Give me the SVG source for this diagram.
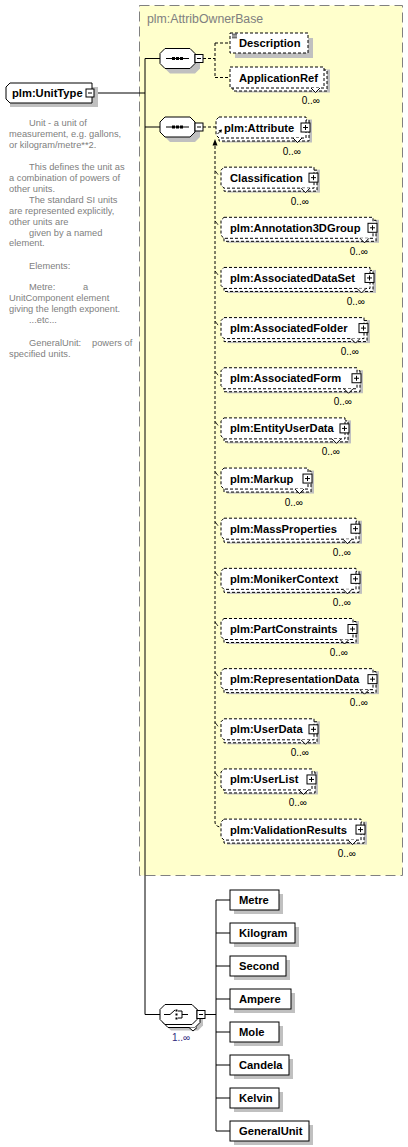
<svg xmlns="http://www.w3.org/2000/svg" width="408" height="1147" viewBox="0 0 408 1147">
<style>
.yb{fill:#ffffcc;stroke:#808080;stroke-dasharray:10,5}
.sh{fill:#c0c0c0;stroke:none}
.nb{fill:#fff;stroke:#000}
.db{fill:#fff;stroke:#000;stroke-dasharray:3,2}
.cv{fill:#fff;stroke:#000}
.ln{fill:none;stroke:#000}
.dl{fill:none;stroke:#000;stroke-dasharray:3,2}
.t{font-family:"Liberation Sans",Arial,sans-serif;font-size:11.2px;font-weight:bold;fill:#000}
.o{font-family:"Liberation Sans",Arial,sans-serif;font-size:10px;fill:#000;text-anchor:end}
.a{font-family:"Liberation Sans",Arial,sans-serif;font-size:9.3px;fill:#808080}
.g{font-family:"Liberation Sans",Arial,sans-serif;font-size:12.3px;fill:#808080}
</style>
<defs>
<g id="seqicon">
<polygon class="sh" points="10,-5 35,-5 40,0 40,10 35,15 10,15 5,10 5,0"/>
<polygon class="nb" points="5,-10 30,-10 35,-5 35,5 30,10 5,10 0,5 0,-5"/>
<path class="ln" d="M6,0H29"/>
<rect x="12" y="-1.5" width="3" height="3" fill="#000"/>
<rect x="16" y="-1.5" width="3" height="3" fill="#000"/>
<rect x="20" y="-1.5" width="3" height="3" fill="#000"/>
<rect class="nb" x="35" y="-4" width="8" height="8"/>
<path class="ln" d="M37,0H41"/>
</g>
</defs>

<!-- base type area -->
<g id="attribownerbase">
<rect class="yb" x="139.5" y="5.5" width="263" height="870"/>
<text class="g" x="147" y="23">plm:AttribOwnerBase</text>
</g>

<!-- connectors -->
<g id="connectors">
<path class="ln" d="M94,93H145M145,58.5V1014.5M145,58.5H160M145,127H160M145,1014.5H160"/>
<path class="dl" d="M203,58.5H215M215,43V77.5M215,43H230M215,77.5H230"/>
<path class="dl" d="M203,127H216"/>
<path class="dl" d="M215,146V822Q215,826 220,827"/>
<polygon points="215,139 212.5,145.5 217.5,145.5" fill="#000"/>
<path class="ln" stroke-width="0.8" d="M215,170.6l3,4M215,220.8l3,4M215,270.9l3,4M215,321.1l3,4M215,371.2l3,4M215,421.4l3,4M215,471.5l3,4M215,521.7l3,4M215,571.8l3,4M215,622l3,4M215,672.1l3,4M215,722.3l3,4M215,772.4l3,4"/>
<path class="ln" d="M205,1014.5H216M216,900V1131M216,900H230M216,933H230M216,966H230M216,999H230M216,1032H230M216,1065H230M216,1098H230M216,1131H230"/>
</g>

<!-- root -->
<g id="unittype">
<rect class="sh" x="10" y="87" width="88" height="20"/>
<path class="nb" d="M10,83H92V103H10L6,99V87Z"/>
<text class="t" x="12" y="97">plm:UnitType</text>
<rect class="nb" x="86" y="89" width="8" height="8"/>
<path class="ln" d="M88,93H92"/>
</g>

<g id="annotation">
<text class="a" x="29" y="126">Unit - a unit of</text>
<text class="a" x="9" y="137">measurement, e.g. gallons,</text>
<text class="a" x="9" y="148">or kilogram/metre**2.</text>
<text class="a" x="29" y="170">This defines the unit as</text>
<text class="a" x="9" y="181">a combination of powers of</text>
<text class="a" x="9" y="191.5">other units.</text>
<text class="a" x="29" y="203">The standard SI units</text>
<text class="a" x="9" y="214">are represented explicitly,</text>
<text class="a" x="9" y="224.5">other units are</text>
<text class="a" x="29" y="235.5">given by a named</text>
<text class="a" x="9" y="246">element.</text>
<text class="a" x="29" y="269">Elements:</text>
<text class="a" x="29" y="290">Metre:<tspan x="83">a</tspan></text>
<text class="a" x="9" y="301">UnitComponent element</text>
<text class="a" x="9" y="312">giving the length exponent.</text>
<text class="a" x="29" y="323">...etc...</text>
<text class="a" x="29" y="346">GeneralUnit:<tspan x="92">powers of</tspan></text>
<text class="a" x="9" y="357">specified units.</text>
</g>

<!-- sequences -->
<g id="sequence1" transform="translate(160,58.5)"><use href="#seqicon"/></g>
<g id="sequence2" transform="translate(160,127)"><use href="#seqicon"/></g>

<g id="description">
<rect class="sh" x="235" y="38" width="78" height="20"/>
<rect class="db" x="230" y="33" width="78" height="20"/>
<path class="ln" stroke-width="0.8" d="M232,34.2H237M232,36H237M232,37.8H237"/>
<text class="t" x="239" y="47">Description</text>
</g>

<g id="applicationref" transform="translate(230,77.5)">
<rect class="sh" x="6" y="-8" width="94" height="23"/>
<rect class="db" x="3" y="-7.5" width="94" height="21"/>
<rect class="db" x="0" y="-10.5" width="94" height="21"/>
<polyline class="cv" points="81,10.5 85.5,15 90,10.5"/>
<text class="t" x="9" y="4">ApplicationRef</text>
<text class="o" x="90" y="26">0..∞</text>
</g>

<g id="attribute" transform="translate(216,127.5)">
<rect class="sh" x="6" y="-8" width="90" height="23"/>
<rect class="db" x="3" y="-7.5" width="90" height="21"/>
<path class="db" d="M3,-10.5H90V10.5H3L0,7.5V-7.5Z"/>
<polyline class="cv" points="77,10.5 81.5,15 86,10.5"/>
<rect class="nb" x="85" y="-4.5" width="9" height="9"/>
<path class="ln" d="M87,0H92M89.5,-2.5V2.5"/>
<path class="ln" d="M1.5,6.5L5,3"/>
<polygon points="6,2 2.5,2.8 5.2,5.5" fill="#000"/>
<text class="t" x="8" y="4">plm:Attribute</text>
<text class="o" x="85" y="27">0..∞</text>
</g>

<g id="classification" transform="translate(221,177.65)">
<rect class="sh" x="6" y="-8" width="93" height="23"/>
<rect class="db" x="3" y="-7.5" width="93" height="21"/>
<path class="db" d="M3,-10.5H93V10.5H3L0,7.5V-7.5Z"/>
<polyline class="cv" points="80,10.5 84.5,15 89,10.5"/>
<rect class="nb" x="88" y="-4.5" width="9" height="9"/>
<path class="ln" d="M90,0H95M92.5,-2.5V2.5"/>
<text class="t" x="9" y="4">Classification</text>
<text class="o" x="88" y="27">0..∞</text>
</g>

<g id="annotation3dgroup" transform="translate(221,227.8)">
<rect class="sh" x="6" y="-8" width="152" height="23"/>
<rect class="db" x="3" y="-7.5" width="152" height="21"/>
<path class="db" d="M3,-10.5H152V10.5H3L0,7.5V-7.5Z"/>
<polyline class="cv" points="139,10.5 143.5,15 148,10.5"/>
<rect class="nb" x="147" y="-4.5" width="9" height="9"/>
<path class="ln" d="M149,0H154M151.5,-2.5V2.5"/>
<text class="t" x="9" y="4">plm:Annotation3DGroup</text>
<text class="o" x="147" y="27">0..∞</text>
</g>

<g id="associateddataset" transform="translate(221,277.95)">
<rect class="sh" x="6" y="-8" width="149" height="23"/>
<rect class="db" x="3" y="-7.5" width="149" height="21"/>
<path class="db" d="M3,-10.5H149V10.5H3L0,7.5V-7.5Z"/>
<polyline class="cv" points="136,10.5 140.5,15 145,10.5"/>
<rect class="nb" x="144" y="-4.5" width="9" height="9"/>
<path class="ln" d="M146,0H151M148.5,-2.5V2.5"/>
<text class="t" x="9" y="4">plm:AssociatedDataSet</text>
<text class="o" x="144" y="27">0..∞</text>
</g>

<g id="associatedfolder" transform="translate(221,328.1)">
<rect class="sh" x="6" y="-8" width="143" height="23"/>
<rect class="db" x="3" y="-7.5" width="143" height="21"/>
<path class="db" d="M3,-10.5H143V10.5H3L0,7.5V-7.5Z"/>
<polyline class="cv" points="130,10.5 134.5,15 139,10.5"/>
<rect class="nb" x="138" y="-4.5" width="9" height="9"/>
<path class="ln" d="M140,0H145M142.5,-2.5V2.5"/>
<text class="t" x="9" y="4">plm:AssociatedFolder</text>
<text class="o" x="138" y="27">0..∞</text>
</g>

<g id="associatedform" transform="translate(221,378.25)">
<rect class="sh" x="6" y="-8" width="136" height="23"/>
<rect class="db" x="3" y="-7.5" width="136" height="21"/>
<path class="db" d="M3,-10.5H136V10.5H3L0,7.5V-7.5Z"/>
<polyline class="cv" points="123,10.5 127.5,15 132,10.5"/>
<rect class="nb" x="131" y="-4.5" width="9" height="9"/>
<path class="ln" d="M133,0H138M135.5,-2.5V2.5"/>
<text class="t" x="9" y="4">plm:AssociatedForm</text>
<text class="o" x="131" y="27">0..∞</text>
</g>

<g id="entityuserdata" transform="translate(221,428.4)">
<rect class="sh" x="6" y="-8" width="124" height="23"/>
<rect class="db" x="3" y="-7.5" width="124" height="21"/>
<path class="db" d="M3,-10.5H124V10.5H3L0,7.5V-7.5Z"/>
<polyline class="cv" points="111,10.5 115.5,15 120,10.5"/>
<rect class="nb" x="119" y="-4.5" width="9" height="9"/>
<path class="ln" d="M121,0H126M123.5,-2.5V2.5"/>
<text class="t" x="9" y="4">plm:EntityUserData</text>
<text class="o" x="119" y="27">0..∞</text>
</g>

<g id="markup" transform="translate(221,478.55)">
<rect class="sh" x="6" y="-8" width="87" height="23"/>
<rect class="db" x="3" y="-7.5" width="87" height="21"/>
<path class="db" d="M3,-10.5H87V10.5H3L0,7.5V-7.5Z"/>
<polyline class="cv" points="74,10.5 78.5,15 83,10.5"/>
<rect class="nb" x="82" y="-4.5" width="9" height="9"/>
<path class="ln" d="M84,0H89M86.5,-2.5V2.5"/>
<text class="t" x="9" y="4">plm:Markup</text>
<text class="o" x="82" y="27">0..∞</text>
</g>

<g id="massproperties" transform="translate(221,528.7)">
<rect class="sh" x="6" y="-8" width="135" height="23"/>
<rect class="db" x="3" y="-7.5" width="135" height="21"/>
<path class="db" d="M3,-10.5H135V10.5H3L0,7.5V-7.5Z"/>
<polyline class="cv" points="122,10.5 126.5,15 131,10.5"/>
<rect class="nb" x="130" y="-4.5" width="9" height="9"/>
<path class="ln" d="M132,0H137M134.5,-2.5V2.5"/>
<text class="t" x="9" y="4">plm:MassProperties</text>
<text class="o" x="130" y="27">0..∞</text>
</g>

<g id="monikercontext" transform="translate(221,578.85)">
<rect class="sh" x="6" y="-8" width="135" height="23"/>
<rect class="db" x="3" y="-7.5" width="135" height="21"/>
<path class="db" d="M3,-10.5H135V10.5H3L0,7.5V-7.5Z"/>
<polyline class="cv" points="122,10.5 126.5,15 131,10.5"/>
<rect class="nb" x="130" y="-4.5" width="9" height="9"/>
<path class="ln" d="M132,0H137M134.5,-2.5V2.5"/>
<text class="t" x="9" y="4">plm:MonikerContext</text>
<text class="o" x="130" y="27">0..∞</text>
</g>

<g id="partconstraints" transform="translate(221,629)">
<rect class="sh" x="6" y="-8" width="132" height="23"/>
<rect class="db" x="3" y="-7.5" width="132" height="21"/>
<path class="db" d="M3,-10.5H132V10.5H3L0,7.5V-7.5Z"/>
<polyline class="cv" points="119,10.5 123.5,15 128,10.5"/>
<rect class="nb" x="127" y="-4.5" width="9" height="9"/>
<path class="ln" d="M129,0H134M131.5,-2.5V2.5"/>
<text class="t" x="9" y="4">plm:PartConstraints</text>
<text class="o" x="127" y="27">0..∞</text>
</g>

<g id="representationdata" transform="translate(221,679.15)">
<rect class="sh" x="6" y="-8" width="152" height="23"/>
<rect class="db" x="3" y="-7.5" width="152" height="21"/>
<path class="db" d="M3,-10.5H152V10.5H3L0,7.5V-7.5Z"/>
<polyline class="cv" points="139,10.5 143.5,15 148,10.5"/>
<rect class="nb" x="147" y="-4.5" width="9" height="9"/>
<path class="ln" d="M149,0H154M151.5,-2.5V2.5"/>
<text class="t" x="9" y="4">plm:RepresentationData</text>
<text class="o" x="147" y="27">0..∞</text>
</g>

<g id="userdata" transform="translate(221,729.3)">
<rect class="sh" x="6" y="-8" width="93" height="23"/>
<rect class="db" x="3" y="-7.5" width="93" height="21"/>
<path class="db" d="M3,-10.5H93V10.5H3L0,7.5V-7.5Z"/>
<polyline class="cv" points="80,10.5 84.5,15 89,10.5"/>
<rect class="nb" x="88" y="-4.5" width="9" height="9"/>
<path class="ln" d="M90,0H95M92.5,-2.5V2.5"/>
<text class="t" x="9" y="4">plm:UserData</text>
<text class="o" x="88" y="27">0..∞</text>
</g>

<g id="userlist" transform="translate(221,779.45)">
<rect class="sh" x="6" y="-8" width="91" height="23"/>
<rect class="db" x="3" y="-7.5" width="91" height="21"/>
<path class="db" d="M3,-10.5H91V10.5H3L0,7.5V-7.5Z"/>
<polyline class="cv" points="78,10.5 82.5,15 87,10.5"/>
<rect class="nb" x="86" y="-4.5" width="9" height="9"/>
<path class="ln" d="M88,0H93M90.5,-2.5V2.5"/>
<text class="t" x="9" y="4">plm:UserList</text>
<text class="o" x="86" y="27">0..∞</text>
</g>

<g id="validationresults" transform="translate(221,829.6)">
<rect class="sh" x="6" y="-8" width="140" height="23"/>
<rect class="db" x="3" y="-7.5" width="140" height="21"/>
<path class="db" d="M3,-10.5H140V10.5H3L0,7.5V-7.5Z"/>
<polyline class="cv" points="127,10.5 131.5,15 136,10.5"/>
<rect class="nb" x="135" y="-4.5" width="9" height="9"/>
<path class="ln" d="M137,0H142M139.5,-2.5V2.5"/>
<text class="t" x="9" y="4">plm:ValidationResults</text>
<text class="o" x="135" y="27">0..∞</text>
</g>

<!-- choice -->
<g id="choice" transform="translate(160,1014.5)">
<polygon class="sh" points="11,-4 38,-4 43,1 43,11 38,16 11,16 6,11 6,1"/>
<polygon class="nb" points="8,-7 35,-7 40,-2 40,8 35,13 8,13 3,8 3,-2"/>
<polygon class="nb" points="5,-10 32,-10 37,-5 37,5 32,10 5,10 0,5 0,-5"/>
<polyline class="cv" points="29,13 33,16.5 37,13"/>
<path class="ln" d="M4,0H10L15,-4.5M18,-3.5H22V3.5H18M22,0H28"/>
<rect x="15.5" y="-5" width="2" height="2" fill="#000"/>
<rect x="15.5" y="-1" width="2" height="2" fill="#000"/>
<rect x="15.5" y="3" width="2" height="2" fill="#000"/>
<rect class="nb" x="37" y="-4" width="8" height="8"/>
<path class="ln" d="M39,0H43"/>
<text x="12" y="26.5" font-family="Liberation Sans, Arial, sans-serif" font-size="10px" fill="#302880">1..∞</text>
</g>

<g id="metre" transform="translate(230,900)">
<rect class="sh" x="4" y="-6" width="49" height="20"/>
<rect class="nb" x="0" y="-10" width="49" height="20"/>
<text class="t" x="9" y="4">Metre</text>
</g>
<g id="kilogram" transform="translate(230,933)">
<rect class="sh" x="4" y="-6" width="65" height="20"/>
<rect class="nb" x="0" y="-10" width="65" height="20"/>
<text class="t" x="9" y="4">Kilogram</text>
</g>
<g id="second" transform="translate(230,966)">
<rect class="sh" x="4" y="-6" width="56" height="20"/>
<rect class="nb" x="0" y="-10" width="56" height="20"/>
<text class="t" x="9" y="4">Second</text>
</g>
<g id="ampere" transform="translate(230,999)">
<rect class="sh" x="4" y="-6" width="61" height="20"/>
<rect class="nb" x="0" y="-10" width="61" height="20"/>
<text class="t" x="9" y="4">Ampere</text>
</g>
<g id="mole" transform="translate(230,1032)">
<rect class="sh" x="4" y="-6" width="49" height="20"/>
<rect class="nb" x="0" y="-10" width="49" height="20"/>
<text class="t" x="9" y="4">Mole</text>
</g>
<g id="candela" transform="translate(230,1065)">
<rect class="sh" x="4" y="-6" width="59" height="20"/>
<rect class="nb" x="0" y="-10" width="59" height="20"/>
<text class="t" x="9" y="4">Candela</text>
</g>
<g id="kelvin" transform="translate(230,1098)">
<rect class="sh" x="4" y="-6" width="49" height="20"/>
<rect class="nb" x="0" y="-10" width="49" height="20"/>
<text class="t" x="9" y="4">Kelvin</text>
</g>
<g id="generalunit" transform="translate(230,1131)">
<rect class="sh" x="4" y="-6" width="79" height="20"/>
<rect class="nb" x="0" y="-10" width="79" height="20"/>
<text class="t" x="9" y="4">GeneralUnit</text>
</g>
</svg>
